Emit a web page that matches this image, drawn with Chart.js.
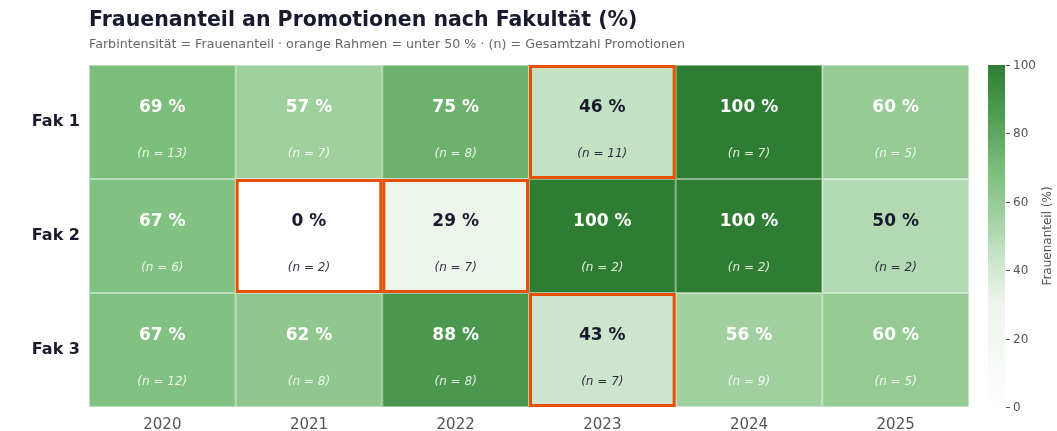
<!DOCTYPE html>
<html>
<head>
<meta charset="utf-8">
<script src="https://cdn.jsdelivr.net/npm/chart.js@4.4.1/dist/chart.umd.min.js"></script>
<style>
  html, body { margin: 0; padding: 0; background: #ffffff; }
  canvas { display: block; }
</style>
</head>
<body>
<canvas id="c" width="1057" height="431"></canvas>
<script>
// ---- data ----
const years = ['2020', '2021', '2022', '2023', '2024', '2025'];
const faculties = ['Fak 1', 'Fak 2', 'Fak 3'];
const shareFak1 = [69, 57, 75, 46, 100, 60];
const shareFak2 = [67, 0, 29, 100, 100, 50];
const shareFak3 = [67, 62, 88, 43, 56, 60];
const totalFak1 = [13, 7, 8, 11, 7, 5];
const totalFak2 = [6, 2, 7, 2, 2, 2];
const totalFak3 = [12, 8, 8, 7, 9, 5];
const colorbarTicks = [0, 20, 40, 60, 80, 100];
const threshold = 50;

const shares = [shareFak1, shareFak2, shareFak3];
const totals = [totalFak1, totalFak2, totalFak3];

// ---- colour map ----
const cmapStops = [
  [0.00, [255, 255, 255]],
  [0.30, [236, 245, 234]],
  [0.45, [199, 227, 199]],
  [0.50, [179, 217, 179]],
  [0.60, [149, 202, 148]],
  [0.70, [121, 189, 121]],
  [0.88, [74, 151, 77]],
  [1.00, [46, 125, 50]]
];
function cmap(v) {
  const t = Math.max(0, Math.min(1, v / 100));
  for (let i = 1; i < cmapStops.length; i++) {
    const [t1, c1] = cmapStops[i];
    const [t0, c0] = cmapStops[i - 1];
    if (t <= t1) {
      const f = (t - t0) / (t1 - t0);
      const c = c0.map((a, k) => Math.round(a + (c1[k] - a) * f));
      return `rgb(${c[0]},${c[1]},${c[2]})`;
    }
  }
  return 'rgb(46,125,50)';
}

const FONT = '"DejaVu Sans", sans-serif';
const DARK = '#1a1a2e';

// datasets: bottom row first (stacked upwards)
const datasets = [2, 1, 0].map(fi => ({
  label: faculties[fi],
  data: years.map(() => 1),
  share: shares[fi],
  total: totals[fi],
  backgroundColor: shares[fi].map(cmap),
  borderWidth: 0,
  barPercentage: 1.0,
  categoryPercentage: 1.0
}));

const decor = {
  id: 'decor',
  afterDatasetsDraw(chart) {
    const ctx = chart.ctx;
    const frames = [];
    const texts = [];
    chart.data.datasets.forEach((ds, di) => {
      const meta = chart.getDatasetMeta(di);
      meta.data.forEach((el, i) => {
        const left = el.x - el.width / 2;
        const right = el.x + el.width / 2;
        const top = Math.min(el.y, el.base);
        const bottom = Math.max(el.y, el.base);
        const v = ds.share[i];
        ctx.save();
        ctx.strokeStyle = 'rgba(255,255,255,0.45)';
        ctx.lineWidth = 1;
        ctx.strokeRect(left + 0.5, top + 0.5, right - left - 1, bottom - top - 1);
        ctx.restore();
        if (v < threshold) frames.push([left, top, right - left, bottom - top]);
        texts.push({ cx: el.x, cy: (top + bottom) / 2, h: bottom - top, v, n: ds.total[i] });
      });
    });
    ctx.save();
    ctx.strokeStyle = '#e65100';
    ctx.lineWidth = 3;
    frames.forEach(([x, y, w, h]) => ctx.strokeRect(x + 1.5, y + 1.5, w - 3, h - 3));
    ctx.restore();
    ctx.save();
    ctx.textAlign = 'center';
    ctx.textBaseline = 'middle';
    texts.forEach(t => {
      const light = t.v >= 55;
      ctx.fillStyle = light ? '#ffffff' : DARK;
      ctx.font = `bold 17px ${FONT}`;
      ctx.fillText(t.v + ' %', t.cx, t.cy - t.h * 0.13);
      ctx.fillStyle = light ? 'rgba(255,255,255,0.85)' : 'rgba(26,26,46,0.9)';
      ctx.font = `italic 12px ${FONT}`;
      ctx.fillText('(n = ' + t.n + ')', t.cx, t.cy + t.h * 0.28);
    });
    ctx.restore();
  },
  afterDraw(chart) {
    const ctx = chart.ctx;
    const cb = chart.scales.cb;
    const x0 = 988, x1 = 1005;
    const yTop = cb.getPixelForValue(100);
    const yBot = cb.getPixelForValue(0);
    const g = ctx.createLinearGradient(0, yBot, 0, yTop);
    for (let k = 0; k <= 50; k++) g.addColorStop(k / 50, cmap(k * 2));
    ctx.save();
    ctx.fillStyle = g;
    ctx.fillRect(x0, yTop, x1 - x0, yBot - yTop);
    ctx.strokeStyle = '#555';
    ctx.lineWidth = 1;
    ctx.fillStyle = '#555';
    ctx.font = `12px ${FONT}`;
    ctx.textAlign = 'left';
    ctx.textBaseline = 'middle';
    colorbarTicks.forEach(t => {
      const y = Math.round(cb.getPixelForValue(t)) + 0.5;
      ctx.beginPath();
      ctx.moveTo(x1 + 1, y);
      ctx.lineTo(x1 + 5, y);
      ctx.stroke();
      ctx.fillText(String(t), x1 + 8, y);
    });
    ctx.translate(1048, (yTop + yBot) / 2);
    ctx.rotate(-Math.PI / 2);
    ctx.textAlign = 'center';
    ctx.fillText('Frauenanteil (%)', 0, 0);
    ctx.restore();
    ctx.save();
    ctx.textAlign = 'left';
    ctx.textBaseline = 'middle';
    ctx.fillStyle = DARK;
    ctx.font = `bold 20.5px ${FONT}`;
    ctx.fillText('Frauenanteil an Promotionen nach Fakultät (%)', 89, 21);
    ctx.fillStyle = '#666';
    ctx.font = `12.7px ${FONT}`;
    ctx.fillText('Farbintensität = Frauenanteil · orange Rahmen = unter 50 % · (n) = Gesamtzahl Promotionen', 89, 45);
    ctx.restore();
  }
};

new Chart(document.getElementById('c'), {
  type: 'bar',
  data: { labels: years, datasets },
  options: {
    responsive: false,
    animation: false,
    devicePixelRatio: 1,
    layout: { padding: { left: 0, right: 88, top: 65, bottom: 0 } },
    plugins: { legend: { display: false }, tooltip: { enabled: false }, title: { display: false } },
    scales: {
      x: {
        stacked: true,
        grid: { display: false, drawTicks: false },
        border: { display: false },
        ticks: { color: '#555', font: { family: FONT, size: 15 }, padding: 9 },
        afterFit: s => { s.height = 24; }
      },
      y: {
        stacked: true,
        min: 0,
        max: 3,
        grid: { display: false, drawTicks: false },
        border: { display: false },
        afterBuildTicks: s => { s.ticks = [{ value: 2.5 }, { value: 1.5 }, { value: 0.5 }]; },
        ticks: {
          color: DARK,
          font: { family: FONT, size: 16, weight: 'bold' },
          padding: 9,
          callback: v => faculties[2 - Math.floor(v)]
        },
        afterFit: s => { s.width = 89; }
      },
      cb: {
        type: 'linear',
        position: 'right',
        min: 0,
        max: 100,
        display: false
      }
    }
  },
  plugins: [decor]
});
</script>
</body>
</html>
